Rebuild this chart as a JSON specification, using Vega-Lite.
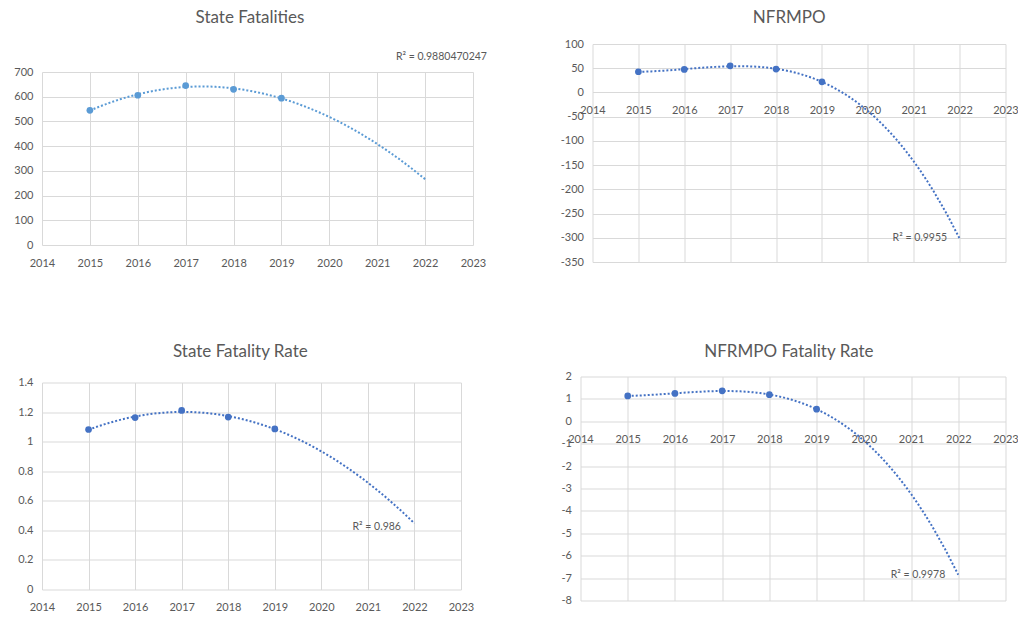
{
  "$schema": "https://vega.github.io/schema/vega-lite/v6.json",
  "background": "white",
  "padding": {"left": 7, "top": 8, "right": 0, "bottom": 0},
  "config": {
    "view": {"stroke": null},
    "font": "Lato",
    "axis": {
      "labelFont": "Lato", "labelFontSize": 11, "labelColor": "#595959",
      "grid": true, "gridColor": "#d9d9d9", "gridWidth": 1,
      "domain": false, "ticks": false, "title": null, "tickCount": 20,
      "labelPadding": 9, "labelFlush": false, "labelOverlap": false
    },
    "axisX": {"labelPadding": 12},
    "title": {"font": "Lato", "fontSize": 17, "fontWeight": "normal", "color": "#595959", "anchor": "middle", "frame": "bounds"}
  },
  "columns": 2,
  "align": "none",
  "spacing": {"row": 74.5, "column": 72.5},
  "concat": [
    {"spacing": 6, "vconcat": [
      {
        "title": {"text": "State Fatalities", "offset": 17.5, "frame": "bounds"},
        "width": 416, "height": 1,
        "data": {"values": []},
        "mark": {"type": "point", "opacity": 0}
      },
      {
      "width": 431, "height": 173,
      "data": {"values": [
        {"year": 2015, "value": 545}, {"year": 2016, "value": 606}, {"year": 2017, "value": 645},
        {"year": 2018, "value": 630}, {"year": 2019, "value": 594}
      ]},
      "layer": [
        {"transform": [{"regression": "value", "on": "year", "method": "poly", "order": 3, "extent": [2015, 2022]}],
         "mark": {"type": "line", "color": "#5B9BD5", "strokeWidth": 2, "strokeDash": [2, 2]},
         "encoding": {
           "x": {"field": "year", "type": "quantitative", "scale": {"domain": [2014, 2023], "nice": false, "zero": false},
                 "axis": {"values": [2014,2015,2016,2017,2018,2019,2020,2021,2022,2023], "format": "d", "tickCount": 20, "labelPadding": 12}},
           "y": {"field": "value", "type": "quantitative", "scale": {"domain": [0, 700], "nice": false},
                 "axis": {"values": [0,100,200,300,400,500,600,700], "labelExpr": "toString(datum.value)", "tickCount": 20}}
         }},
        {"mark": {"type": "point", "filled": true, "shape": "circle", "size": 45, "color": "#5B9BD5", "opacity": 1},
         "encoding": {"x": {"field": "year", "type": "quantitative"}, "y": {"field": "value", "type": "quantitative"}}},
        {"data": {"values": [{"label": "R² = 0.9880470247"}]},
         "mark": {"type": "text", "align": "left", "baseline": "middle", "fontSize": 10.5, "color": "#595959"},
         "encoding": {"x": {"datum": 2021.39, "type": "quantitative"}, "y": {"datum": 761, "type": "quantitative"}, "text": {"field": "label"}}}
      ]
    }]},
    {
      "title": {"text": "NFRMPO", "offset": 11, "frame": "bounds"},
      "width": 413, "height": 218,
      "data": {"values": [
        {"year": 2015, "value": 42.7}, {"year": 2016, "value": 47.5}, {"year": 2017, "value": 55},
        {"year": 2018, "value": 48.2}, {"year": 2019, "value": 22}
      ]},
      "layer": [
        {"transform": [{"regression": "value", "on": "year", "method": "poly", "order": 3, "extent": [2015, 2022]}],
         "mark": {"type": "line", "color": "#4472C4", "strokeWidth": 2, "strokeDash": [2, 2]},
         "encoding": {
           "x": {"field": "year", "type": "quantitative", "scale": {"domain": [2014, 2023], "nice": false, "zero": false},
                 "axis": {"values": [2014,2015,2016,2017,2018,2019,2020,2021,2022,2023], "format": "d", "offset": -169.6, "tickCount": 20, "labelPadding": 12}},
           "y": {"field": "value", "type": "quantitative", "scale": {"domain": [-350, 100], "nice": false},
                 "axis": {"values": [-350,-300,-250,-200,-150,-100,-50,0,50,100], "labelExpr": "toString(datum.value)", "tickCount": 20, "minExtent": 31, "maxExtent": 31}}
         }},
        {"mark": {"type": "point", "filled": true, "shape": "circle", "size": 45, "color": "#4472C4", "opacity": 1},
         "encoding": {"x": {"field": "year", "type": "quantitative"}, "y": {"field": "value", "type": "quantitative"}}},
        {"data": {"values": [{"label": "R² = 0.9955"}]},
         "mark": {"type": "text", "align": "left", "baseline": "middle", "fontSize": 10.5, "color": "#595959"},
         "encoding": {"x": {"datum": 2020.54, "type": "quantitative"}, "y": {"datum": -300.5, "type": "quantitative"}, "text": {"field": "label"}}}
      ]
    },
    {
      "title": {"text": "State Fatality Rate", "offset": 16, "frame": "bounds"},
      "width": 419, "height": 207,
      "data": {"values": [
        {"year": 2015, "value": 1.082}, {"year": 2016, "value": 1.163}, {"year": 2017, "value": 1.211},
        {"year": 2018, "value": 1.166}, {"year": 2019, "value": 1.086}
      ]},
      "layer": [
        {"transform": [{"regression": "value", "on": "year", "method": "poly", "order": 3, "extent": [2015, 2022]}],
         "mark": {"type": "line", "color": "#4472C4", "strokeWidth": 2, "strokeDash": [2, 2]},
         "encoding": {
           "x": {"field": "year", "type": "quantitative", "scale": {"domain": [2014, 2023], "nice": false, "zero": false},
                 "axis": {"values": [2014,2015,2016,2017,2018,2019,2020,2021,2022,2023], "format": "d", "tickCount": 20, "labelPadding": 12}},
           "y": {"field": "value", "type": "quantitative", "scale": {"domain": [0, 1.4], "nice": false},
                 "axis": {"values": [0,0.2,0.4,0.6,0.8,1,1.2,1.4], "labelExpr": "toString(datum.value)", "tickCount": 20, "minExtent": 35, "maxExtent": 35}}
         }},
        {"mark": {"type": "point", "filled": true, "shape": "circle", "size": 45, "color": "#4472C4", "opacity": 1},
         "encoding": {"x": {"field": "year", "type": "quantitative"}, "y": {"field": "value", "type": "quantitative"}}},
        {"data": {"values": [{"label": "R² = 0.986"}]},
         "mark": {"type": "text", "align": "left", "baseline": "middle", "fontSize": 10.5, "color": "#595959"},
         "encoding": {"x": {"datum": 2020.67, "type": "quantitative"}, "y": {"datum": 0.426, "type": "quantitative"}, "text": {"field": "label"}}}
      ]
    },
    {
      "title": {"text": "NFRMPO Fatality Rate", "offset": 10, "frame": "bounds"},
      "width": 425, "height": 224,
      "data": {"values": [
        {"year": 2015, "value": 1.134}, {"year": 2016, "value": 1.245}, {"year": 2017, "value": 1.36},
        {"year": 2018, "value": 1.19}, {"year": 2019, "value": 0.54}
      ]},
      "layer": [
        {"transform": [{"regression": "value", "on": "year", "method": "poly", "order": 3, "extent": [2015, 2022]}],
         "mark": {"type": "line", "color": "#4472C4", "strokeWidth": 2, "strokeDash": [2, 2]},
         "encoding": {
           "x": {"field": "year", "type": "quantitative", "scale": {"domain": [2014, 2023], "nice": false, "zero": false},
                 "axis": {"values": [2014,2015,2016,2017,2018,2019,2020,2021,2022,2023], "format": "d", "offset": -179.2, "tickCount": 20, "labelPadding": 12}},
           "y": {"field": "value", "type": "quantitative", "scale": {"domain": [-8, 2], "nice": false},
                 "axis": {"values": [-8,-7,-6,-5,-4,-3,-2,-1,0,1,2], "labelExpr": "toString(datum.value)", "tickCount": 20, "minExtent": 21, "maxExtent": 21}}
         }},
        {"mark": {"type": "point", "filled": true, "shape": "circle", "size": 45, "color": "#4472C4", "opacity": 1},
         "encoding": {"x": {"field": "year", "type": "quantitative"}, "y": {"field": "value", "type": "quantitative"}}},
        {"data": {"values": [{"label": "R² = 0.9978"}]},
         "mark": {"type": "text", "align": "left", "baseline": "middle", "fontSize": 10.5, "color": "#595959"},
         "encoding": {"x": {"datum": 2020.57, "type": "quantitative"}, "y": {"datum": -6.88, "type": "quantitative"}, "text": {"field": "label"}}}
      ]
    }
  ]
}
